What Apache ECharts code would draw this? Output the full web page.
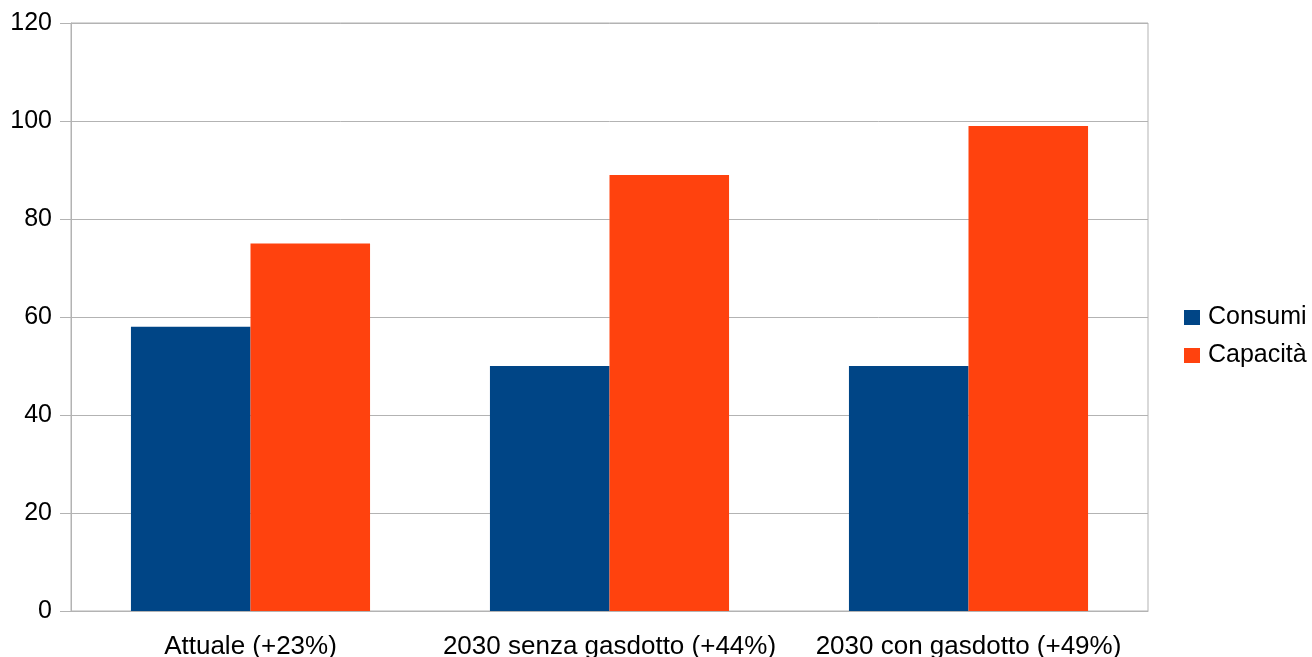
<!DOCTYPE html>
<html>
<head>
<meta charset="utf-8">
<script src="https://cdn.jsdelivr.net/npm/echarts@6/dist/echarts.min.js"></script>
<style>
  html, body { margin: 0; padding: 0; background: #fff; }
  #chart { width: 1312px; height: 657px; }
</style>
</head>
<body>
<div id="chart"></div>
<script>
// dati
const categories = ['Attuale (+23%)', '2030 senza gasdotto (+44%)', '2030 con gasdotto (+49%)'];
const consumi = [58, 50, 50];
const capacita = [75, 89, 99];
const seriesNames = ['Consumi', 'Capacità'];

const chart = echarts.init(document.getElementById('chart'));
const gray = '#b3b3b3';
const font = 'Liberation Sans';

chart.setOption({
  animation: false,
  textStyle: { fontFamily: font },
  grid: {
    left: 71, right: 164, top: 23, bottom: 46,
    outerBoundsMode: 'none', containLabel: false,
    show: true, borderColor: gray, borderWidth: 1
  },
  legend: {
    orient: 'vertical',
    left: 1179, top: 300,
    itemWidth: 16, itemHeight: 15, itemGap: 13,
    icon: 'rect',
    textStyle: { fontSize: 25, color: '#000', fontFamily: font, padding: [0, 0, 0, 3] },
    data: seriesNames
  },
  xAxis: {
    type: 'category',
    data: categories,
    axisLine: { lineStyle: { color: gray } },
    axisTick: { length: 11, lineStyle: { color: gray } },
    axisLabel: { fontSize: 26, color: '#000', margin: 23, fontFamily: font, interval: 0 }
  },
  yAxis: {
    type: 'value',
    min: 0, max: 120, interval: 20,
    axisLine: { show: true, lineStyle: { color: gray } },
    axisTick: { show: true, length: 11, lineStyle: { color: gray } },
    axisLabel: { fontSize: 25, color: '#000', margin: 19, fontFamily: font },
    splitLine: { lineStyle: { color: gray } }
  },
  series: [
    {
      name: seriesNames[0], type: 'bar', data: consumi,
      itemStyle: { color: '#004586' },
      barGap: '0%', barCategoryGap: '33.4%'
    },
    {
      name: seriesNames[1], type: 'bar', data: capacita,
      itemStyle: { color: '#ff420e' }
    }
  ]
});
</script>
</body>
</html>
